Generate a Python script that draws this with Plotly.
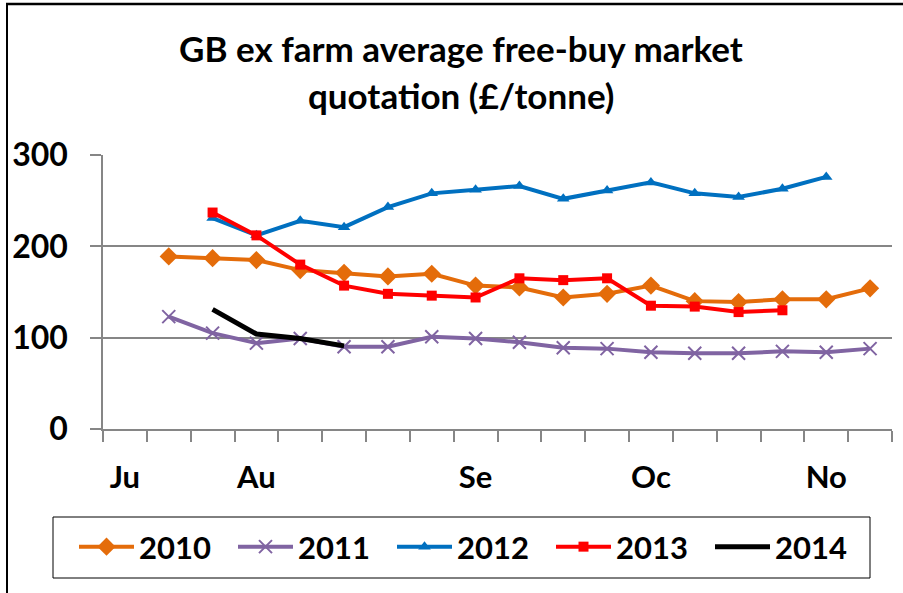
import plotly.graph_objects as go

# Week categories (18) with month labels on some of them
tick_labels = ["Ju", "", "", "Au", "", "", "", "", "Se", "", "", "", "Oc", "", "", "", "No", ""]

v2010 = [None, 189, 187, 185, 174, 171, 167, 170, 157, 155, 144, 148, 157, 140, 139, 142, 142, 154]
v2011 = [None, 123, 105, 94, 99, 90, 90, 101, 99, 95, 89, 88, 84, 83, 83, 85, 84, 88]
v2012 = [None, None, 231, 212, 228, 221, 243, 258, 262, 266, 252, 261, 270, 258, 254, 263, 276, None]
v2013 = [None, None, 237, 212, 180, 157, 148, 146, 144, 165, 163, 165, 135, 134, 128, 130, None, None]
v2014 = [None, None, 131, 104, 99, 91, None, None, None, None, None, None, None, None, None, None, None, None]

y_ticks = [0, 100, 200, 300]

x = [i + 0.5 for i in range(len(tick_labels))]
label_pos = [x[i] for i, t in enumerate(tick_labels) if t]
label_txt = [t for t in tick_labels if t]

FONT = "Lato, 'Liberation Sans', Arial, sans-serif"
GRID = "#868686"

L, R, T, B = 103, 892, 155, 429
PW, PH = R - L, B - T


def px(v):
    return (v - L) / PW


def py(v):
    return (B - v) / PH


fig = go.Figure()
fig.add_trace(go.Scatter(x=x, y=v2010, name="2010", mode="lines+markers",
                         line=dict(color="#E46C0A", width=4),
                         marker=dict(symbol="diamond", size=14, color="#E46C0A")))
fig.add_trace(go.Scatter(x=x, y=v2011, name="2011", mode="lines+markers",
                         line=dict(color="#8064A2", width=4),
                         marker=dict(symbol="x-thin", size=13, color="#8064A2",
                                     line=dict(color="#8064A2", width=2))))
fig.add_trace(go.Scatter(x=x, y=v2012, name="2012", mode="lines+markers",
                         line=dict(color="#0070C0", width=4),
                         marker=dict(symbol="triangle-up", size=11, color="#0070C0")))
fig.add_trace(go.Scatter(x=x, y=v2013, name="2013", mode="lines+markers",
                         line=dict(color="#FF0000", width=4),
                         marker=dict(symbol="square", size=10, color="#FF0000")))
fig.add_trace(go.Scatter(x=x, y=v2014, name="2014", mode="lines",
                         line=dict(color="#000000", width=5)))

fig.update_layout(
    width=903, height=593,
    margin=dict(l=L, r=903 - R, t=T, b=593 - B, autoexpand=False),
    paper_bgcolor="white", plot_bgcolor="white",
    font=dict(family=FONT, size=31, color="black"),
    showlegend=True,
    legend=dict(orientation="h", xref="paper", yref="paper",
                x=px(74), xanchor="left", y=py(520), yanchor="top",
                borderwidth=0, bgcolor="rgba(0,0,0,0)",
                font=dict(family=FONT, size=31, color="black", weight="bold"),
                entrywidth=89, entrywidthmode="pixels",
                tracegroupgap=0, itemwidth=55),
    xaxis=dict(range=[0, len(tick_labels)], tickmode="array",
               tickvals=label_pos, ticktext=label_txt, ticks="",
               showgrid=False, zeroline=False, automargin=False,
               showline=True, linecolor=GRID, linewidth=1.5,
               tickfont=dict(family=FONT, size=31, color="black", weight="bold"),
               ticklabelstandoff=20,
               minor=dict(ticks="outside", tick0=0, dtick=1, ticklen=11,
                          tickcolor=GRID, tickwidth=1.5, showgrid=False)),
    yaxis=dict(range=[0, 300], tickmode="array", tickvals=y_ticks,
               ticktext=[str(v) for v in y_ticks], automargin=False,
               ticks="outside", ticklen=11, tickcolor=GRID, tickwidth=1.5,
               showgrid=True, gridcolor=GRID, gridwidth=1.5,
               zeroline=False, showline=True, linecolor=GRID, linewidth=1.5,
               tickfont=dict(family=FONT, size=32, color="black", weight="bold"),
               ticklabelstandoff=16),
    annotations=[
        dict(text="<b>GB ex farm average free-buy market</b>", xref="paper", yref="paper",
             x=px(461), y=py(48), showarrow=False,
             xanchor="center", yanchor="middle",
             font=dict(family=FONT, size=35, color="black")),
        dict(text="<b>quotation (£/tonne)</b>", xref="paper", yref="paper",
             x=px(461), y=py(95), showarrow=False,
             xanchor="center", yanchor="middle",
             font=dict(family=FONT, size=35, color="black")),
    ],
    shapes=[
        # chart frame (top and left edges visible; the rest is cropped)
        dict(type="line", xref="paper", yref="paper",
             x0=px(6), x1=px(903), y0=py(4), y1=py(4),
             line=dict(color="black", width=2.5), layer="above"),
        dict(type="line", xref="paper", yref="paper",
             x0=px(7), x1=px(7), y0=py(4), y1=py(593),
             line=dict(color="black", width=2), layer="above"),
        # legend box
        dict(type="rect", xref="paper", yref="paper",
             x0=px(53), x1=px(870), y0=py(578), y1=py(517),
             line=dict(color="black", width=1), fillcolor="rgba(0,0,0,0)", layer="below"),
    ],
)

fig.write_html("out.html", config={"displayModeBar": False},
               post_script="document.body.style.margin='0';document.body.style.padding='0';")
